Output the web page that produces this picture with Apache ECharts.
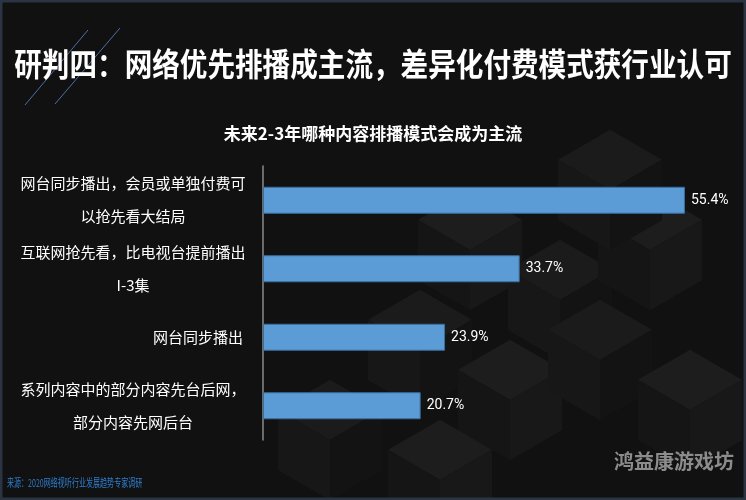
<!DOCTYPE html>
<html>
  <head>
    <meta charset="utf-8" />
    <title>研判四</title>
    <script src="https://cdn.jsdelivr.net/npm/echarts@6/dist/echarts.min.js"></script>
    <style>
      html, body { margin: 0; padding: 0; background: #111; }
      #main { width: 746px; height: 500px; }
    </style>
  </head>
  <body>
    <div id="main"></div>
    <script>
      // 数据
      var categories = [
        '网台同步播出，会员或单独付费可\n以抢先看大结局',
        '互联网抢先看，比电视台提前播出\nI-3集',
        '网台同步播出',
        '系列内容中的部分内容先台后网，\n部分内容先网后台'
      ];
      var values = [55.4, 33.7, 23.9, 20.7];

      var cjk = '"Noto Sans CJK SC", "Noto Sans", sans-serif';

      // 背景立方体
      function cube(cx, cy, s, shades) {
        var h = s * 0.58;
        return [
          { type: 'polygon', silent: true, z: -10,
            shape: { points: [[cx, cy - h * 2], [cx + s, cy - h], [cx, cy], [cx - s, cy - h]] },
            style: { fill: shades[0] } },
          { type: 'polygon', silent: true, z: -10,
            shape: { points: [[cx - s, cy - h], [cx, cy], [cx, cy + h * 2], [cx - s, cy + h]] },
            style: { fill: shades[1] } },
          { type: 'polygon', silent: true, z: -10,
            shape: { points: [[cx + s, cy - h], [cx, cy], [cx, cy + h * 2], [cx + s, cy + h]] },
            style: { fill: shades[2] } }
        ];
      }
      var bg = [];
      var cubePos = [[470, 250], [560, 300], [650, 250], [420, 350], [510, 400], [600, 360], [690, 410], [330, 440], [440, 480], [610, 190]];
      cubePos.forEach(function (p, i) {
        var a = i % 2 === 0 ? ['#1d1d1d', '#151515', '#181818'] : ['#1b1b1b', '#171717', '#131313'];
        bg = bg.concat(cube(p[0], p[1], 52, a));
      });

      var myChart = echarts.init(document.getElementById('main'));
      var option = {
        backgroundColor: '#111111',
        title: {
          text: '未来2-3年哪种内容排播模式会成为主流',
          left: 'center',
          top: 120,
          textStyle: { color: '#ffffff', fontSize: 17, fontWeight: 'bold', fontFamily: cjk }
        },
        graphic: bg.concat([
          // 外框
          { type: 'rect', silent: true, z: 10,
            shape: { x: 1, y: 1, width: 744, height: 498 },
            style: { fill: null, stroke: '#2b3442', lineWidth: 3 } },
          // 标题装饰斜线
          { type: 'line', silent: true,
            shape: { x1: 25, y1: 105, x2: 88, y2: 30 },
            style: { stroke: '#4d6fa8', lineWidth: 1 } },
          { type: 'line', silent: true,
            shape: { x1: 55, y1: 104, x2: 120, y2: 28 },
            style: { stroke: '#4d6fa8', lineWidth: 1 } },
          // 大标题
          { type: 'text', left: 'center', top: 48, scaleY: 1.15,
            style: {
              text: '研判四：网络优先排播成主流，差异化付费模式获行业认可',
              fill: '#ffffff', fontSize: 27.6, fontWeight: 'bold', fontFamily: cjk
            } },
          // 来源
          { type: 'text', left: 7, top: 477, scaleX: 0.64,
            style: {
              text: '来源：2020网络视听行业发展趋势专家调研',
              fill: '#2f7fd0', fontSize: 11, fontFamily: cjk
            } },
          // 水印
          { type: 'text', right: 12, top: 451,
            style: {
              text: '鸿益康游戏坊',
              fill: '#8c8c8c', fontSize: 20, fontWeight: 'bold', fontFamily: cjk
            } }
        ]),
        grid: { left: 263, top: 166, bottom: 60, right: 26, containLabel: false },
        xAxis: {
          type: 'value',
          min: 0,
          max: 60,
          show: false
        },
        yAxis: {
          type: 'category',
          inverse: true,
          data: categories,
          axisLine: { lineStyle: { color: '#8a8a8a', width: 1.5 } },
          axisTick: { show: false },
          axisLabel: {
            margin: 20,
            color: '#ffffff',
            fontFamily: cjk,
            formatter: function (v) {
              return v.indexOf('\n') >= 0 ? '{c|' + v + '}' : '{s|' + v + '}';
            },
            rich: {
              c: { width: 220, align: 'center', lineHeight: 33, fontSize: 15, color: '#ffffff', fontFamily: cjk },
              s: { fontSize: 15, color: '#ffffff', fontFamily: cjk }
            }
          }
        },
        series: [{
          type: 'bar',
          data: values,
          barWidth: 27,
          itemStyle: { color: '#5b9bd6', borderColor: '#3a6f9e', borderWidth: 1 },
          label: {
            show: true,
            position: 'right',
            distance: 6,
            color: '#ffffff',
            fontSize: 14,
            fontFamily: 'Roboto, sans-serif',
            formatter: '{c}%'
          }
        }]
      };
      myChart.setOption(option);
    </script>
  </body>
</html>
